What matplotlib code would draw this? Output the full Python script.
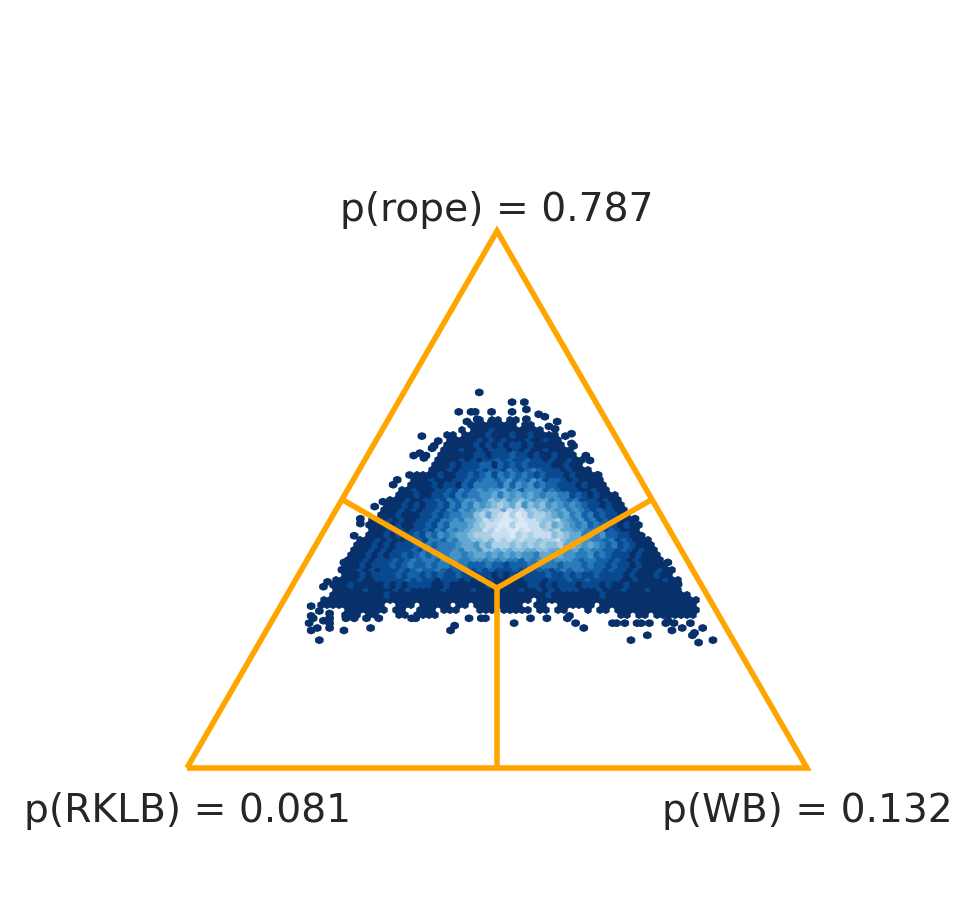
import numpy as np
import matplotlib
matplotlib.use("Agg")
import matplotlib.pyplot as plt

# coordinates are the pixels of the reference, y going down
corner_x = [187, 807, 497]
corner_y = [768, 768, 231]
centre = (497, 588)
labels = ["p(RKLB) = 0.081", "p(WB) = 0.132", "p(rope) = 0.787"]

row_y = list(range(420, 620, 5))
row_left = [477, 468, 459, 444, 447, 444, 441, 438, 435, 432,
            429, 414, 411, 408, 399, 396, 387, 384, 381, 378,
            369, 366, 369, 366, 357, 354, 351, 348, 345, 342,
            339, 342, 333, 330, 333, 330, 321, 318, 321, 318]
# one digit per hexagon, 0 = darkest blue, 9 = nearly white, blank = empty
row_levels = [
    "0 00 00",
    "00000000 00",
    "0 000100000000",
    "00 0000100010010000",
    "0000010101000100100",
    "00000101010110100000",
    "0001001011101010010000",
    "00000011011121101001000",
    "0000101011212112110100100",
    "0001011122021212111100100",
    "000101112122132123211101000",
    "0000100112123132323212111010000",
    "00010001121233234232431221010000",
    "000010110213333242434232211101000",
    "00100011213234344534244423211100100",
    "0001001121323344535454543443312101000",
    "000100112132344346564565455343231110100",
    "0001010112132435456765746564543432110100",
    "00010101121324345677587867655453432121100",
    "000100011212334467578979867765453423121100",
    "00010100112133435568789989887667543423121100",
    "0001010011213244456788997998867565434232110100",
    "000101011213243456687989989887675544332121000",
    "0001011121324345567778889787888676553434221100",
    "0001010011213324355667687878776778655443323121000",
    "00010101112132333455465777676767667565454323121000",
    "000101011121323334355466565665566554453433221210100",
    "0001010112123233344345545454544355454433423211101000",
    "00010111212323324343344343433243433444323322121010000",
    "000101112123223233233222322122232333233323221211010000",
    "00010101112123223212221212111212122123233222121101000100",
    "0001011112122121211211111010101111211212112111101000100",
    "0000100111112121101110101010010011101112112111110010000100",
    "0001000001010111100100000010000001101011101110100100000000",
    "0000010000101000001000010000000100101011100010001000100000",
    "000000000100000000000000000000000000100000000100000000000000",
    "00000000000000000000000000000000000 000000000000000000000000000",
    "00000000000  000 00000 00 00000000  00  000000 0000000000000000",
    "    0000000 00  000 000   000 00000 00 00   0 00 00000000000000",
    "    000 00   00 0000                              00 00 0000000",
]

stray_x = [479, 512, 459, 472, 476, 492, 512, 477, 467, 492, 423, 439, 435, 432,
           421, 414, 423, 427, 398, 394, 411, 384, 376, 361, 361, 524, 526, 526,
           538, 544, 556, 548, 554, 571, 564, 571, 573, 585, 589, 597, 615, 635,
           354, 345, 342, 329, 323, 311, 319, 312, 313, 330, 330, 309, 323, 330,
           330, 317, 311, 343, 319, 370, 378, 453, 451, 347, 353, 367, 410, 415,
           469, 480, 487, 516, 532, 548, 570, 568, 577, 583, 631, 648, 612, 615,
           625, 637, 642, 649, 672, 682, 691, 704, 694, 692, 698, 712, 690, 678,
           666, 666, 642, 665, 668, 673]
stray_y = [392, 402, 412, 412, 412, 412, 412, 419, 421, 421, 436, 440, 445, 448,
           452, 455, 459, 455, 479, 484, 474, 501, 506, 518, 523, 402, 409, 419,
           414, 416, 421, 426, 428, 433, 436, 443, 445, 455, 460, 474, 501, 520,
           537, 562, 571, 581, 588, 607, 612, 617, 619, 614, 619, 624, 622, 624,
           629, 629, 631, 631, 641, 629, 619, 626, 629, 619, 619, 617, 619, 619,
           617, 619, 619, 624, 619, 619, 617, 619, 624, 627, 641, 636, 624, 624,
           624, 624, 624, 624, 631, 629, 624, 627, 634, 636, 643, 641, 668, 585,
           562, 571, 537, 622, 622, 622]

cell_x, cell_y, cell_level = [], [], []
for y, left, levels in zip(row_y, row_left, row_levels):
    for i, ch in enumerate(levels):
        if ch != " ":
            cell_x.append(left + 3 + 6 * i)
            cell_y.append(y)
            cell_level.append(int(ch))

fig = plt.figure(figsize=(9.77, 9.16), dpi=100)
ax = fig.add_axes([0, 0, 1, 1])

# the stray points, small bins with a thick edge, as hexbin draws them
ax.hexbin(stray_x, stray_y, C=np.zeros(len(stray_x)), reduce_C_function=np.max,
          gridsize=(100, 56), extent=(305, 715, 390, 662), cmap="Blues_r",
          vmin=0, vmax=10.5, linewidths=3.3)
ax.hexbin(cell_x, cell_y, C=cell_level, reduce_C_function=np.max,
          gridsize=(70, 25), extent=(300, 720, 400, 650), cmap="Blues_r",
          vmin=0, vmax=10.5, linewidths=1.0)

orange = "orange"
ax.plot(corner_x + corner_x[:1], corner_y + corner_y[:1], color=orange, lw=4,
        solid_joinstyle="miter", solid_capstyle="butt")
for i, j in [(0, 2), (1, 2), (0, 1)]:
    ax.plot([(corner_x[i] + corner_x[j]) / 2, centre[0]],
            [(corner_y[i] + corner_y[j]) / 2, centre[1]],
            color=orange, lw=4, solid_capstyle="butt")

text_color = "#262626"
ax.text(187, 811, labels[0], ha="center", va="center", fontsize=28.2, color=text_color)
ax.text(807, 811, labels[1], ha="center", va="center", fontsize=28.2, color=text_color)
ax.text(497, 210, labels[2], ha="center", va="center", fontsize=28.2, color=text_color)

ax.set_xlim(0, 977)
ax.set_ylim(916, 0)
ax.axis("off")
fig.savefig("out.png", dpi=100, facecolor="white")
